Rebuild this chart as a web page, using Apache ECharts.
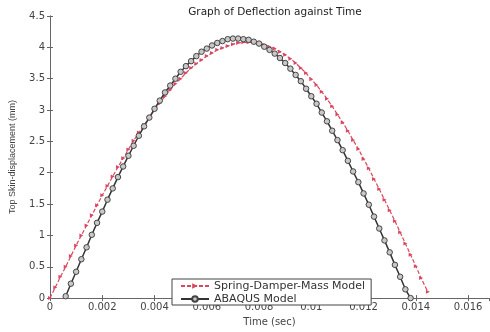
<!DOCTYPE html>
<html>
<head>
<meta charset="utf-8">
<script src="https://cdn.jsdelivr.net/npm/echarts@6/dist/echarts.min.js"></script>
<style>
  html, body { margin: 0; padding: 0; background: #fff; }
  #chart { width: 490px; height: 332px; }
</style>
</head>
<body>
<div id="chart"></div>
<script>
// Spring-Damper-Mass Model (red dashed)
var sdmTime = [0, 0.0002, 0.0004, 0.0006, 0.0008, 0.0010, 0.0012, 0.0014, 0.0016, 0.0018,
  0.0020, 0.0022, 0.0024, 0.0026, 0.0028, 0.0030, 0.0032, 0.0034, 0.0036, 0.0038,
  0.0040, 0.0042, 0.0044, 0.0046, 0.0048, 0.0050, 0.0052, 0.0054, 0.0056, 0.0058,
  0.0060, 0.0062, 0.0064, 0.0066, 0.0068, 0.0070, 0.0072, 0.0074, 0.0076, 0.0078,
  0.0080, 0.0082, 0.0084, 0.0086, 0.0088, 0.0090, 0.0092, 0.0094, 0.0096, 0.0098,
  0.0100, 0.0102, 0.0104, 0.0106, 0.0108, 0.0110, 0.0112, 0.0114, 0.0116, 0.0118,
  0.0120, 0.0122, 0.0124, 0.0126, 0.0128, 0.0130, 0.0132, 0.0134, 0.0136, 0.0138,
  0.0140, 0.0142, 0.01446];
var sdmDefl = [0, 0.17, 0.34, 0.50, 0.67, 0.84, 1.00, 1.16, 1.32, 1.48,
  1.64, 1.79, 1.94, 2.09, 2.23, 2.37, 2.51, 2.64, 2.76, 2.88,
  3.00, 3.11, 3.22, 3.32, 3.42, 3.50, 3.59, 3.67, 3.74, 3.80,
  3.86, 3.91, 3.96, 3.99, 4.02, 4.05, 4.07, 4.08, 4.08, 4.08,
  4.06, 4.04, 4.01, 3.98, 3.93, 3.88, 3.82, 3.75, 3.67, 3.59,
  3.49, 3.40, 3.29, 3.18, 3.06, 2.93, 2.80, 2.67, 2.52, 2.38,
  2.22, 2.07, 1.90, 1.74, 1.57, 1.40, 1.23, 1.05, 0.87, 0.69,
  0.51, 0.32, 0.10];

// ABAQUS Model (black with circles)
var abqTime = [0.0006, 0.0008, 0.0010, 0.0012, 0.0014, 0.0016, 0.0018, 0.0020, 0.0022, 0.0024,
  0.0026, 0.0028, 0.0030, 0.0032, 0.0034, 0.0036, 0.0038, 0.0040, 0.0042, 0.0044,
  0.0046, 0.0048, 0.0050, 0.0052, 0.0054, 0.0056, 0.0058, 0.0060, 0.0062, 0.0064,
  0.0066, 0.0068, 0.0070, 0.0072, 0.0074, 0.0076, 0.0078, 0.0080, 0.0082, 0.0084,
  0.0086, 0.0088, 0.0090, 0.0092, 0.0094, 0.0096, 0.0098, 0.0100, 0.0102, 0.0104,
  0.0106, 0.0108, 0.0110, 0.0112, 0.0114, 0.0116, 0.0118, 0.0120, 0.0122, 0.0124,
  0.0126, 0.0128, 0.0130, 0.0132, 0.0134, 0.0136, 0.0138];
var abqDefl = [0.03, 0.23, 0.42, 0.62, 0.81, 1.01, 1.20, 1.38, 1.57, 1.75,
  1.93, 2.10, 2.27, 2.43, 2.59, 2.74, 2.88, 3.02, 3.15, 3.28,
  3.39, 3.50, 3.61, 3.70, 3.78, 3.86, 3.93, 3.98, 4.03, 4.07,
  4.10, 4.13, 4.14, 4.14, 4.13, 4.12, 4.09, 4.06, 4.01, 3.96,
  3.90, 3.83, 3.75, 3.66, 3.56, 3.46, 3.34, 3.22, 3.10, 2.96,
  2.82, 2.67, 2.52, 2.36, 2.19, 2.02, 1.85, 1.67, 1.49, 1.30,
  1.11, 0.92, 0.73, 0.53, 0.34, 0.14, 0.00];

var seriesNames = ['Spring-Damper-Mass Model', 'ABAQUS Model'];

function pairs(xs, ys) {
  var out = [];
  for (var i = 0; i < xs.length; i++) {
    out.push([xs[i], ys[i]]);
  }
  return out;
}

var fontName = 'DejaVu Sans';
var axisColor = '#666';
var textColor = '#444';

var chart = echarts.init(document.getElementById('chart'));
var option = {
  animation: false,
  backgroundColor: '#fff',
  title: {
    text: 'Graph of Deflection against Time',
    left: 270,
    textAlign: 'center',
    top: 2,
    textStyle: { fontFamily: fontName, fontSize: 10.5, fontWeight: 'normal', color: '#222' }
  },
  legend: {
    orient: 'vertical',
    left: 172,
    top: 279,
    itemWidth: 28,
    itemHeight: 7,
    itemGap: 1,
    padding: [1, 6, 0, 8],
    backgroundColor: '#fff',
    borderColor: '#444',
    borderWidth: 1,
    borderRadius: 0,
    textStyle: { fontFamily: fontName, fontSize: 11, lineHeight: 12, color: '#333' },
    data: seriesNames
  },
  grid: { left: 50, top: 16, right: 1, bottom: 27 },
  xAxis: [{
    type: 'value',
    min: 0,
    max: 0.0168,
    interval: 0.002,
    name: 'Time (sec)',
    nameLocation: 'middle',
    nameGap: 18,
    nameTextStyle: { fontFamily: fontName, fontSize: 10, color: textColor },
    axisLine: { lineStyle: { color: axisColor } },
    axisTick: { inside: true, length: 3, lineStyle: { color: axisColor } },
    axisLabel: { fontFamily: fontName, fontSize: 10, color: textColor, margin: 4, showMaxLabel: false },
    splitLine: { show: false }
  }, {
    type: 'value',
    position: 'top',
    min: 0,
    max: 0.0168,
    interval: 0.002,
    axisLine: { lineStyle: { color: axisColor } },
    axisTick: { inside: true, length: 3, lineStyle: { color: axisColor } },
    axisLabel: { show: false },
    splitLine: { show: false }
  }],
  yAxis: [{
    type: 'value',
    min: 0,
    max: 4.5,
    interval: 0.5,
    name: 'Top Skin-displacement (mm)',
    nameLocation: 'middle',
    nameGap: 33,
    nameTextStyle: { fontFamily: 'Liberation Sans', fontSize: 9, color: textColor },
    axisLine: { show: true, lineStyle: { color: axisColor } },
    axisTick: { show: true, inside: true, length: 3, lineStyle: { color: axisColor } },
    axisLabel: { fontFamily: fontName, fontSize: 10, color: textColor, margin: 5 },
    splitLine: { show: false }
  }, {
    type: 'value',
    position: 'right',
    min: 0,
    max: 4.5,
    interval: 0.5,
    axisLine: { show: true, lineStyle: { color: axisColor } },
    axisTick: { show: true, inside: true, length: 3, lineStyle: { color: axisColor } },
    axisLabel: { show: false },
    splitLine: { show: false }
  }],
  series: [{
    name: seriesNames[0],
    type: 'line',
    data: pairs(sdmTime, sdmDefl),
    symbol: 'triangle',
    symbolRotate: -90,
    symbolSize: 4,
    lineStyle: { color: '#d94860', width: 1.2, type: [4, 2] },
    itemStyle: { color: '#d94860' },
    z: 2
  }, {
    name: seriesNames[1],
    type: 'line',
    data: pairs(abqTime, abqDefl),
    symbol: 'circle',
    symbolSize: 5.5,
    showAllSymbol: true,
    lineStyle: { color: '#333', width: 1.5 },
    itemStyle: { color: '#c8c8c8', borderColor: '#444', borderWidth: 1 },
    z: 3
  }]
};
chart.setOption(option);
</script>
</body>
</html>
